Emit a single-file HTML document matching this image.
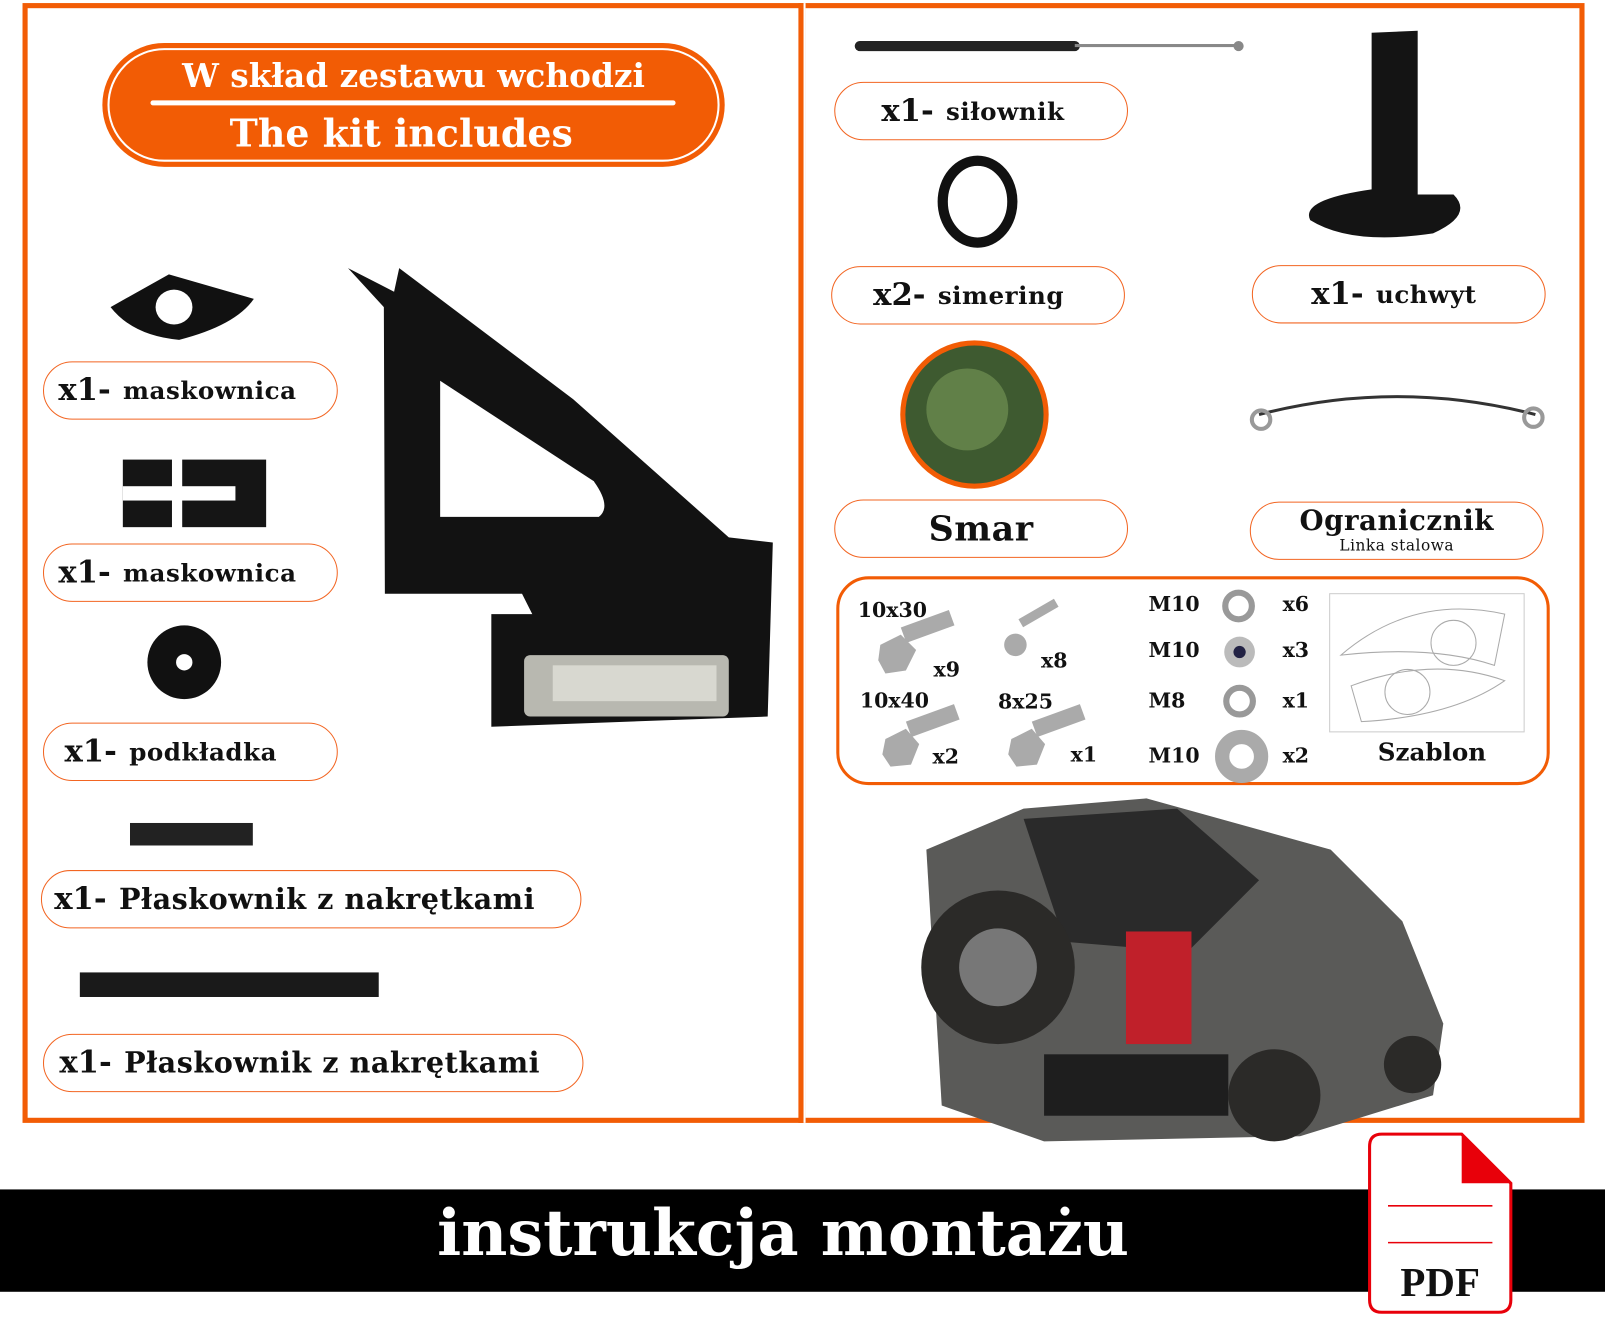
<!DOCTYPE html>
<html><head><meta charset="utf-8"><style>
html,body{margin:0;padding:0;background:#fff;width:1605px;height:1322px;overflow:hidden}
#w{position:absolute;left:0;top:0;width:1568px;height:1292px;transform:scale(1.0236);transform-origin:0 0;font-family:"DejaVu Serif","Liberation Serif",serif;font-weight:bold}
.a{position:absolute}
.pill{position:absolute;border:1.5px solid #f26522;border-radius:30px;background:#fff;box-sizing:border-box;display:flex;align-items:center;color:#111;white-space:nowrap}
.pill b{font-size:30px;margin-right:12px}
.pill span{font-size:24px;letter-spacing:0.5px}
.t{position:absolute;font-size:20px;color:#111;white-space:nowrap}
</style></head><body><div id="w">
<div class="a" style="left:22px;top:3px;width:1526px;height:1094px;border:5px solid #f25c05;box-sizing:border-box"></div>
<div class="a" style="left:780px;top:3px;width:7px;height:1094px;background:#f25c05"></div>
<div class="a" style="left:785px;top:3px;width:2px;height:1094px;background:#fff"></div>

<div class="a" style="left:100px;top:42px;width:608px;height:121px;background:#f25c05;border-radius:61px"></div>
<div class="a" style="left:105px;top:47px;width:598px;height:111px;border:2px solid #fff;border-radius:56px;box-sizing:border-box"></div>
<div class="a" style="left:100px;top:55px;width:608px;text-align:center;color:#fff;font-size:32px">W skład zestawu wchodzi</div>
<div class="a" style="left:147px;top:98px;width:513px;height:5px;background:#fff;border-radius:3px"></div>
<div class="a" style="left:88px;top:108px;width:608px;text-align:center;color:#fff;font-size:37px">The kit includes</div>

<svg class="a" style="left:0;top:0" width="780" height="1100">
<path d="M108 300 L165 268 L248 292 Q230 318 175 332 Q130 328 108 300Z" fill="#111"/>
<ellipse cx="170" cy="300" rx="18" ry="17" fill="#fff"/>
<rect x="120" y="449" width="48" height="66" fill="#151515"/><rect x="178" y="449" width="82" height="66" fill="#151515"/>
<rect x="120" y="475" width="110" height="14" fill="#fff"/>
<circle cx="180" cy="647" r="36" fill="#111"/><circle cx="180" cy="647" r="8" fill="#fff"/>
<rect x="127" y="804" width="120" height="22" fill="#222"/>
<rect x="78" y="950" width="292" height="24" fill="#1a1a1a"/>
<path d="M340 262 L375 300 L376 580 L510 580 L520 600 L480 600 L480 710 L750 700 L755 530 L712 525 L560 390 L390 262 L385 285 Z" fill="#121212"/>
<path d="M430 372 L430 505 L585 505 Q598 495 580 470 Z" fill="#fff"/>
<rect x="512" y="640" width="200" height="60" rx="6" fill="#b8b8b0"/>
<rect x="540" y="650" width="160" height="35" fill="#d8d8d0"/>
</svg>
<div class="pill" style="left:42px;top:353px;width:288px;height:57px;padding-left:14px"><b>x1-</b><span>maskownica</span></div>
<div class="pill" style="left:42px;top:531px;width:288px;height:57px;padding-left:14px"><b>x1-</b><span>maskownica</span></div>
<div class="pill" style="left:42px;top:706px;width:288px;height:57px;padding-left:20px"><b>x1-</b><span>podkładka</span></div>
<div class="pill" style="left:40px;top:850px;width:528px;height:57px;padding-left:12px"><b>x1-</b><span style="font-size:28px">Płaskownik z nakrętkami</span></div>
<div class="pill" style="left:42px;top:1010px;width:528px;height:57px;padding-left:15px"><b>x1-</b><span style="font-size:28px">Płaskownik z nakrętkami</span></div>

<svg class="a" style="left:0;top:0" width="1568" height="1130">
<rect x="835" y="40" width="220" height="10" rx="5" fill="#222"/><rect x="1050" y="43" width="160" height="3" fill="#888"/>
<circle cx="1210" cy="45" r="5" fill="#888"/>
<ellipse cx="955" cy="197" rx="34" ry="40" fill="none" stroke="#111" stroke-width="10"/>
<path d="M1340 32 L1385 30 L1385 190 L1420 190 Q1440 210 1400 228 Q1320 240 1280 215 Q1270 195 1340 185 Z" fill="#141414"/>
<circle cx="952" cy="405" r="70" fill="#3e5a30" stroke="#f25c05" stroke-width="5"/>
<circle cx="945" cy="400" r="40" fill="#7a9a58" opacity=".6"/>
<path d="M1230 405 Q1365 370 1500 405" fill="none" stroke="#333" stroke-width="3"/>
<circle cx="1232" cy="410" r="9" fill="none" stroke="#999" stroke-width="4"/><circle cx="1498" cy="408" r="9" fill="none" stroke="#999" stroke-width="4"/>
<path d="M905 830 L1000 790 L1120 780 L1300 830 L1370 900 L1410 1000 L1400 1070 L1270 1110 L1020 1115 L920 1080 Z" fill="#5a5a58"/>
<path d="M1000 800 L1150 790 L1230 860 L1160 930 L1040 920 Z" fill="#2a2a2a"/>
<circle cx="975" cy="945" r="75" fill="#2b2a28"/><circle cx="975" cy="945" r="38" fill="#777"/>
<rect x="1100" y="910" width="64" height="110" fill="#c0202a"/>
<rect x="1020" y="1030" width="180" height="60" fill="#1e1e1e"/>
<circle cx="1245" cy="1070" r="45" fill="#2b2a28"/><circle cx="1380" cy="1040" r="28" fill="#2b2a28"/>
<rect x="818.5" y="564.5" width="694" height="201" rx="30" fill="none" stroke="#f25c05" stroke-width="3"/>
<g fill="#aaa"><polygon points="860,630 880,620 895,635 885,655 865,658 858,645"/><rect x="880" y="613" width="50" height="16" transform="rotate(-20 880 613)"/>
<polygon points="865,722 885,712 898,727 890,747 870,749 862,737"/><rect x="885" y="705" width="50" height="16" transform="rotate(-20 885 705)"/>
<polygon points="988,722 1008,712 1021,727 1013,747 993,749 985,737"/><rect x="1008" y="705" width="50" height="16" transform="rotate(-20 1008 705)"/>
<circle cx="992" cy="630" r="11"/><rect x="995" y="605" width="40" height="9" transform="rotate(-30 995 605)"/></g>
<circle cx="1210" cy="592" r="13" fill="none" stroke="#999" stroke-width="6"/>
<circle cx="1211" cy="637" r="15" fill="#bbb"/><circle cx="1211" cy="637" r="6" fill="#224"/>
<circle cx="1211" cy="685" r="13" fill="none" stroke="#999" stroke-width="6"/>
<circle cx="1213" cy="739" r="19" fill="none" stroke="#aaa" stroke-width="14"/>
<rect x="1299" y="580" width="190" height="135" fill="#fff" stroke="#ccc"/>
<path d="M1310 640 Q1380 580 1470 600 L1460 650 Q1400 630 1310 640Z" fill="none" stroke="#aaa"/>
<circle cx="1420" cy="628" r="22" fill="none" stroke="#aaa"/>
<path d="M1320 670 Q1400 640 1470 665 Q1420 700 1330 705Z" fill="none" stroke="#aaa"/>
<circle cx="1375" cy="676" r="22" fill="none" stroke="#aaa"/>
</svg>
<div class="pill" style="left:815px;top:80px;width:287px;height:57px;padding-left:45px"><b>x1-</b><span>siłownik</span></div>
<div class="pill" style="left:812px;top:260px;width:287px;height:57px;padding-left:40px"><b>x2-</b><span>simering</span></div>
<div class="pill" style="left:1223px;top:259px;width:287px;height:57px;padding-left:57px"><b>x1-</b><span>uchwyt</span></div>
<div class="pill" style="left:815px;top:488px;width:287px;height:57px;justify-content:center"><span style="font-size:34px">Smar</span></div>
<div class="pill" style="left:1221px;top:490px;width:287px;height:57px;flex-direction:column;justify-content:center"><span style="font-size:27px;line-height:28px">Ogranicznik</span><span style="font-size:15px;line-height:18px;font-weight:normal">Linka stalowa</span></div>
<div class="t" style="left:838px;top:584px">10x30</div>
<div class="t" style="left:912px;top:642px">x9</div>
<div class="t" style="left:1017px;top:633px">x8</div>
<div class="t" style="left:840px;top:672px">10x40</div>
<div class="t" style="left:975px;top:673px">8x25</div>
<div class="t" style="left:911px;top:727px">x2</div>
<div class="t" style="left:1046px;top:725px">x1</div>
<div class="t" style="left:1122px;top:578px">M10</div><div class="t" style="left:1253px;top:578px">x6</div>
<div class="t" style="left:1122px;top:623px">M10</div><div class="t" style="left:1253px;top:623px">x3</div>
<div class="t" style="left:1122px;top:672px">M8</div><div class="t" style="left:1253px;top:672px">x1</div>
<div class="t" style="left:1122px;top:726px">M10</div><div class="t" style="left:1253px;top:726px">x2</div>
<div class="t" style="left:1346px;top:720px;font-size:24px">Szablon</div>

<div class="a" style="left:0;top:1162px;width:1568px;height:100px;background:#000"></div>
<div class="a" style="left:380px;top:1168px;width:770px;text-align:center;color:#fff;font-size:62px;white-space:nowrap">instrukcja montażu</div>
<svg class="a" style="left:1336px;top:1106px" width="145" height="180">
<path d="M14 2 L92 2 L140 50 L140 164 Q140 176 128 176 L14 176 Q2 176 2 164 L2 14 Q2 2 14 2Z" fill="#fff" stroke="#e8000a" stroke-width="3"/>
<path d="M92 2 L140 50 L92 50Z" fill="#e8000a"/>
<line x1="20" y1="72" x2="122" y2="72" stroke="#e8000a" stroke-width="1.5"/>
<line x1="20" y1="108" x2="122" y2="108" stroke="#e8000a" stroke-width="1.5"/>
<text x="71" y="160" text-anchor="middle" font-family="Liberation Serif" font-weight="bold" font-size="40" fill="#111">PDF</text>
</svg>
</div></body></html>
